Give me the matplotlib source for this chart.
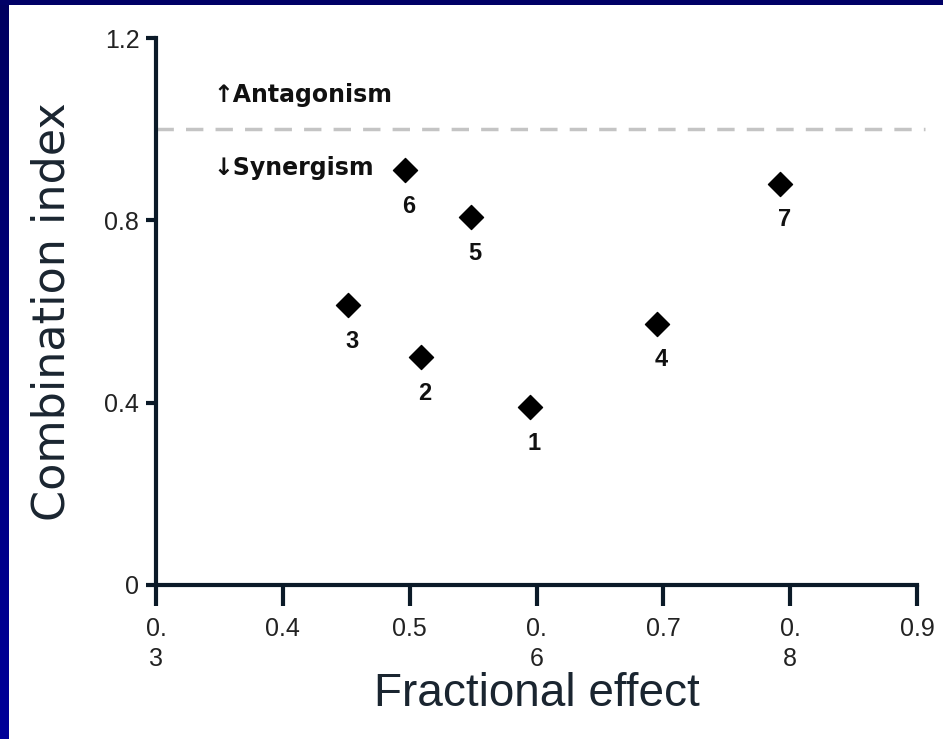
import matplotlib
matplotlib.use("Agg")
from matplotlib import pyplot as plt
from matplotlib import font_manager
import numpy as np

# combination index per drug pair
labels = ["1", "2", "3", "4", "5", "6", "7"]
frac_effect = [0.595, 0.509, 0.451, 0.695, 0.548, 0.496, 0.792]
comb_index = [0.390, 0.500, 0.614, 0.573, 0.807, 0.910, 0.880]

xticks = [0.3, 0.4, 0.5, 0.6, 0.7, 0.8, 0.9]
xtick_labels = ["0.\n3", "0.4", "0.5", "0.\n6", "0.7", "0.\n8", "0.9"]
yticks = [0, 0.4, 0.8, 1.2]
ytick_labels = ["0", "0.4", "0.8", "1.2"]

names = {f.name for f in font_manager.fontManager.ttflist}
narrow = "Liberation Sans Narrow" if "Liberation Sans Narrow" in names else "Liberation Sans"
plt.rcParams["font.family"] = [narrow, "DejaVu Sans"]

axis_col = "#0b1a28"
fig = plt.figure(figsize=(9.43, 7.39), dpi=100)
fig.patch.set_facecolor("white")

# navy frame on the left and top
side = fig.add_axes([0, 0, 9 / 943, 1])
grad = np.linspace(0, 1, 256).reshape(-1, 1)
side.imshow(grad, aspect="auto", cmap=matplotlib.colors.LinearSegmentedColormap.from_list(
    "frame", ["#000099", "#000060"]), origin="lower", extent=[0, 1, 0, 1])
side.axis("off")
top = fig.add_axes([0, 1 - 5 / 739, 1, 5 / 739])
top.set_facecolor("#000066")
top.set_xticks([])
top.set_yticks([])
for s in top.spines.values():
    s.set_visible(False)

ax = fig.add_axes([156 / 943, 1 - 585 / 739, (917 - 156) / 943, (585 - 38) / 739])
ax.set_xlim(0.3, 0.9)
ax.set_ylim(0, 1.2)
for s in ["top", "right"]:
    ax.spines[s].set_visible(False)
for s in ["left", "bottom"]:
    ax.spines[s].set_linewidth(3)
    ax.spines[s].set_color(axis_col)
    ax.spines[s].set_zorder(5)

ax.axhline(1.0, color="#c4c4c4", lw=2.5, dashes=(5, 3.5), clip_on=False, xmax=1.01)

ax.scatter(frac_effect, comb_index, marker="D", s=150, color="black", zorder=6, clip_on=False)
for lab, x, y in zip(labels, frac_effect, comb_index):
    ax.annotate(lab, (x, y), xytext=(3, -26), textcoords="offset points", ha="center",
                va="center", fontsize=17, fontweight="bold", color="#111111")

ax.text(0.345, 1.075, "\u2191Antagonism", fontsize=17, fontweight="bold", color="#111111",
        va="center", ha="left", family=["DejaVu Sans"])
ax.text(0.345, 0.915, "\u2193Synergism", fontsize=17, fontweight="bold", color="#111111",
        va="center", ha="left", family=["DejaVu Sans"])

ax.set_xticks(xticks)
ax.set_xticklabels(xtick_labels, fontsize=18, color="#222222", linespacing=1.3, va="top")
ax.set_yticks(yticks)
ax.set_yticklabels(ytick_labels, fontsize=18, color="#222222")
ax.tick_params(axis="x", length=15, width=3, color=axis_col, pad=8)
ax.tick_params(axis="y", length=7, width=3, color=axis_col, pad=5)

ax.set_xlabel("Fractional effect", fontsize=33, color="#1a2530", labelpad=1)
ax.set_ylabel("Combination index", fontsize=32, color="#1a2530", labelpad=22,
              family=["DejaVu Sans"])

fig.savefig("out.png", dpi=100, facecolor="white")
